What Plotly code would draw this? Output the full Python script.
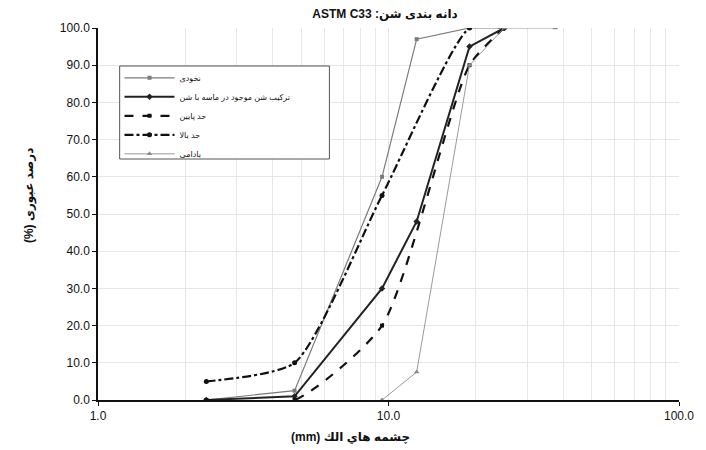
import plotly.graph_objects as go

# Data
nokhodi_x = [2.36, 4.75, 9.5, 12.5, 19.0, 25.0]
nokhodi_y = [0.0, 2.5, 60.0, 97.0, 100.0, 100.0]

comp_x = [2.36, 4.75, 9.5, 12.5, 19.0, 25.0]
comp_y = [0.0, 1.0, 30.0, 48.0, 95.0, 100.0]

lower_x = [2.36, 4.75, 9.5, 19.0, 25.0]
lower_y = [0.0, 0.0, 20.0, 90.0, 100.0]

upper_x = [2.36, 4.75, 9.5, 19.0, 25.0]
upper_y = [5.0, 10.0, 55.0, 100.0, 100.0]

badami_x = [9.5, 12.5, 19.0, 25.0, 37.5]
badami_y = [0.0, 7.5, 90.0, 100.0, 100.0]

names = ["نخودی", "ترکیب شن موجود در ماسه با شن", "حد پایین", "حد بالا", "بادامی"]

x_tickvals = [1, 10, 100]
x_ticktext = ["1.0", "10.0", "100.0"]
x_minor = [2, 3, 4, 5, 6, 7, 8, 9, 20, 30, 40, 50, 60, 70, 80, 90]

FONT = "Liberation Sans, Arial, DejaVu Sans, sans-serif"
RLE, PDF = "\u202b", "\u202c"

fig = go.Figure()
fig.add_trace(go.Scatter(x=nokhodi_x, y=nokhodi_y, name=names[0], mode="lines+markers",
                         line=dict(color="#7a7a7a", width=1.2),
                         marker=dict(symbol="square", size=4, color="#7a7a7a")))
fig.add_trace(go.Scatter(x=comp_x, y=comp_y, name=names[1], mode="lines+markers",
                         line=dict(color="#222222", width=2),
                         marker=dict(symbol="diamond", size=5, color="#222222")))
fig.add_trace(go.Scatter(x=lower_x, y=lower_y, name=names[2], mode="lines+markers",
                         line=dict(color="#111111", width=2.2, dash="dash", shape="spline", smoothing=0.6),
                         marker=dict(symbol="square", size=4, color="#111111")))
fig.add_trace(go.Scatter(x=upper_x, y=upper_y, name=names[3], mode="lines+markers",
                         line=dict(color="#111111", width=2.2, dash="dashdot", shape="spline", smoothing=0.6),
                         marker=dict(symbol="circle", size=5, color="#111111")))
fig.add_trace(go.Scatter(x=badami_x, y=badami_y, name=names[4], mode="lines+markers",
                         line=dict(color="#9a9a9a", width=1),
                         marker=dict(symbol="triangle-up", size=5, color="#8a8a8a")))

fig.update_layout(
    width=706, height=450,
    margin=dict(l=98, r=18, t=28, b=50),
    paper_bgcolor="white", plot_bgcolor="white",
    font=dict(family=FONT, size=12, color="#111111"),
    title=dict(text="<b>" + RLE + "دانه بندی شن: ASTM C33" + PDF + "</b>", x=385 / 706, xanchor="center",
               y=1 - 14 / 450, yanchor="middle", font=dict(size=12, family=FONT)),
    showlegend=True,
    legend=dict(x=0.037, y=0.905, xanchor="left", yanchor="top",
                bgcolor="rgba(0,0,0,0)", borderwidth=0,
                font=dict(size=8, family=FONT), itemwidth=50, tracegroupgap=0),
    xaxis=dict(type="log", range=[0, 2], tickvals=x_tickvals, ticktext=x_ticktext,
               showline=True, linecolor="#111111", linewidth=1.5, ticks="outside",
               ticklen=4, tickcolor="#111111", showgrid=True, gridcolor="#e6e6e6",
               gridwidth=1, zeroline=False, tickfont=dict(size=12),
               minor=dict(tickvals=x_minor, showgrid=True, gridcolor="#e6e6e6", gridwidth=1)),
    yaxis=dict(range=[0, 100], tickvals=list(range(0, 101, 10)), tickformat=".1f",
               showline=True, linecolor="#111111", linewidth=1.5, ticks="outside",
               ticklen=4, tickcolor="#111111", showgrid=True, gridcolor="#e6e6e6",
               zeroline=False, tickfont=dict(size=12)),
)

# legend frame
fig.add_shape(type="rect", xref="paper", yref="paper",
              x0=(120 - 98) / 590, x1=(333 - 98) / 590,
              y0=(400 - 159) / 372, y1=(400 - 66) / 372,
              line=dict(color="#555555", width=1), fillcolor="white", layer="above")

fig.add_annotation(text="<b>" + RLE + "چشمه هاي الك (mm)" + PDF + "</b>", xref="paper", yref="paper",
                   x=(354 - 98) / 590, y=-(437 - 400) / 372, xanchor="center", yanchor="middle",
                   showarrow=False, font=dict(size=12, family=FONT))
fig.add_annotation(text="<b>" + RLE + "درصد عبوری (%)" + PDF + "</b>", xref="paper", yref="paper",
                   x=-(98 - 28) / 590, y=(400 - 196) / 372, xanchor="center", yanchor="middle",
                   textangle=-90, showarrow=False, font=dict(size=12, family=FONT))

fig.write_html("out.html")
